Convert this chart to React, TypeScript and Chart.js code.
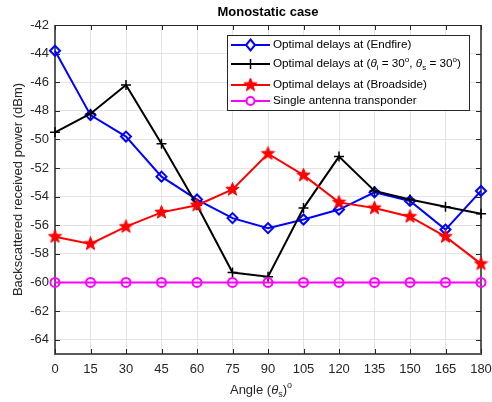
import React, { useEffect, useRef } from 'react';
import { Chart, registerables } from 'chart.js';

Chart.register(...registerables);

const angles = [0, 15, 30, 45, 60, 75, 90, 105, 120, 135, 150, 165, 180];
const endfire = [-43.8, -48.3, -49.8, -52.6, -54.2, -55.5, -56.2, -55.6, -54.9, -53.7, -54.3, -56.3, -53.6];
const steered = [-49.5, -48.2, -46.2, -50.3, -54.6, -59.3, -59.6, -54.8, -51.2, -53.6, -54.2, -54.7, -55.2];
const broadside = [-56.8, -57.3, -56.1, -55.1, -54.6, -53.5, -51.0, -52.5, -54.4, -54.8, -55.4, -56.8, -58.7];
const single = [-60, -60, -60, -60, -60, -60, -60, -60, -60, -60, -60, -60, -60];
const xTicks = [0, 15, 30, 45, 60, 75, 90, 105, 120, 135, 150, 165, 180];
const yTicks = [-42, -44, -46, -48, -50, -52, -54, -56, -58, -60, -62, -64];

const FONT = '"Liberation Sans", Arial, Helvetica, sans-serif';

type Run = { t: string; italic?: boolean; sub?: boolean; sup?: boolean };

function runsWidth(ctx: CanvasRenderingContext2D, runs: Run[], size: number) {
  let w = 0;
  for (const r of runs) {
    const s = r.sub || r.sup ? Math.round(size * 0.72) : size;
    ctx.font = `${r.italic ? 'italic ' : ''}${s}px ${FONT}`;
    w += ctx.measureText(r.t).width;
  }
  return w;
}

function drawRuns(ctx: CanvasRenderingContext2D, runs: Run[], x: number, y: number, size: number, color: string) {
  ctx.save();
  ctx.fillStyle = color;
  ctx.textBaseline = 'middle';
  ctx.textAlign = 'left';
  let cx = x;
  for (const r of runs) {
    const s = r.sub || r.sup ? Math.round(size * 0.72) : size;
    ctx.font = `${r.italic ? 'italic ' : ''}${s}px ${FONT}`;
    const dy = r.sub ? size * 0.32 : r.sup ? -size * 0.38 : 0;
    ctx.fillText(r.t, cx, y + dy);
    cx += ctx.measureText(r.t).width;
  }
  ctx.restore();
}

function makeStar(color: string, size: number) {
  const c = document.createElement('canvas');
  c.width = size;
  c.height = size;
  const g = c.getContext('2d')!;
  const cx = size / 2, cy = size / 2;
  const R = size / 2 - 0.5, r = R * 0.42;
  g.beginPath();
  for (let i = 0; i < 10; i++) {
    const a = -Math.PI / 2 + (i * Math.PI) / 5;
    const rr = i % 2 === 0 ? R : r;
    const px = cx + rr * Math.cos(a), py = cy + rr * Math.sin(a);
    if (i === 0) g.moveTo(px, py); else g.lineTo(px, py);
  }
  g.closePath();
  g.fillStyle = color;
  g.fill();
  g.strokeStyle = color;
  g.lineWidth = 1;
  g.stroke();
  return c;
}

export default function App() {
  const ref = useRef<HTMLCanvasElement>(null);
  useEffect(() => {
    const canvas = ref.current!;
    const star = makeStar('#ff0000', 15);
    const legendStar = makeStar('#ff0000', 15);

    const deco = {
      id: 'deco',
      beforeDatasetsDraw(chart: any) {
        const { ctx, chartArea: a, scales } = chart;
        ctx.save();
        ctx.strokeStyle = '#262626';
        ctx.lineWidth = 1;
        ctx.beginPath();
        ctx.moveTo(a.left, a.top + 0.5); ctx.lineTo(a.right, a.top + 0.5);
        ctx.stroke();
        ctx.strokeStyle = '#5a5a5a';
        ctx.lineWidth = 2;
        ctx.beginPath();
        ctx.moveTo(a.left, a.top); ctx.lineTo(a.left, a.bottom); ctx.lineTo(a.right, a.bottom); ctx.lineTo(a.right, a.top);
        ctx.stroke();
        ctx.strokeStyle = '#262626';
        ctx.lineWidth = 1;
        const tl = 5;
        ctx.beginPath();
        for (const v of xTicks) {
          const px = Math.round(scales.x.getPixelForValue(v)) + 0.5;
          ctx.moveTo(px, a.bottom); ctx.lineTo(px, a.bottom - tl);
          ctx.moveTo(px, a.top); ctx.lineTo(px, a.top + tl);
        }
        for (const v of yTicks) {
          const py = Math.round(scales.y.getPixelForValue(v)) + 0.5;
          ctx.moveTo(a.left, py); ctx.lineTo(a.left + tl, py);
          ctx.moveTo(a.right, py); ctx.lineTo(a.right - tl, py);
        }
        ctx.stroke();
        ctx.restore();
      },
      afterDraw(chart: any) {
        const { ctx, chartArea: a } = chart;
        const cxp = (a.left + a.right) / 2;
        // Title
        ctx.save();
        ctx.fillStyle = '#000';
        ctx.font = `bold 13px ${FONT}`;
        ctx.textAlign = 'center';
        ctx.textBaseline = 'middle';
        ctx.fillText('Monostatic case', cxp, 12);
        // Y title
        ctx.translate(18, (a.top + a.bottom) / 2);
        ctx.rotate(-Math.PI / 2);
        ctx.font = `13px ${FONT}`;
        ctx.fillStyle = '#262626';
        ctx.fillText('Backscattered received power (dBm)', 0, 0);
        ctx.restore();
        // X title
        const xr: Run[] = [{ t: 'Angle (' }, { t: 'θ', italic: true }, { t: 's', sub: true }, { t: ')' }, { t: 'o', sup: true }];
        const w = runsWidth(ctx, xr, 13);
        drawRuns(ctx, xr, 261 - w / 2, 390, 13, '#262626');

        // Legend
        const lx = 227, ly = 35, lw = 242, lh = 75;
        ctx.save();
        ctx.fillStyle = '#fff';
        ctx.fillRect(lx, ly, lw, lh);
        ctx.strokeStyle = '#262626';
        ctx.lineWidth = 1;
        ctx.strokeRect(lx + 0.5, ly + 0.5, lw, lh);
        ctx.restore();
        const rows: { y: number; color: string; marker: string; runs: Run[] }[] = [
          { y: 45, color: '#0000ff', marker: 'diamond', runs: [{ t: 'Optimal delays at (Endfire)' }] },
          {
            y: 64, color: '#000000', marker: 'plus',
            runs: [{ t: 'Optimal delays at (' }, { t: 'θ', italic: true }, { t: 'i', sub: true }, { t: ' = 30' }, { t: 'o', sup: true }, { t: ', ' }, { t: 'θ', italic: true }, { t: 's', sub: true }, { t: ' = 30' }, { t: 'o', sup: true }, { t: ')' }],
          },
          { y: 85, color: '#ff0000', marker: 'star', runs: [{ t: 'Optimal delays at (Broadside)' }] },
          { y: 101, color: '#ff00ff', marker: 'circle', runs: [{ t: 'Single antenna transponder' }] },
        ];
        for (const r of rows) {
          ctx.save();
          ctx.strokeStyle = r.color;
          ctx.lineWidth = 2;
          ctx.beginPath();
          ctx.moveTo(231, r.y);
          ctx.lineTo(270, r.y);
          ctx.stroke();
          const mx = 250.5, my = r.y;
          if (r.marker === 'diamond') {
            ctx.fillStyle = '#fff';
            ctx.beginPath();
            ctx.moveTo(mx, my - 5.5); ctx.lineTo(mx + 4.5, my); ctx.lineTo(mx, my + 5.5); ctx.lineTo(mx - 4.5, my); ctx.closePath();
            ctx.fill(); ctx.stroke();
          } else if (r.marker === 'plus') {
            ctx.lineWidth = 1.5;
            ctx.beginPath();
            ctx.moveTo(mx, my - 5); ctx.lineTo(mx, my + 5);
            ctx.stroke();
          } else if (r.marker === 'star') {
            ctx.drawImage(legendStar, mx - 7.5, my - 7.5);
          } else if (r.marker === 'circle') {
            ctx.fillStyle = '#fff';
            ctx.beginPath();
            ctx.arc(mx, my, 4, 0, Math.PI * 2);
            ctx.fill(); ctx.stroke();
          }
          ctx.restore();
          drawRuns(ctx, r.runs, 273, r.y, 11.7, '#000');
        }
      },
    };

    const mk = (data: number[]) => angles.map((x, i) => ({ x, y: data[i] }));

    const chart = new Chart(canvas, {
      type: 'line',
      data: {
        datasets: [
          { label: 'Optimal delays at (Endfire)', data: mk(endfire), borderColor: '#0000ff', backgroundColor: '#ffffff', borderWidth: 2, pointStyle: 'rectRot', pointRadius: 5, pointBorderWidth: 2, pointBorderColor: '#0000ff', pointBackgroundColor: 'rgba(255,255,255,0)', clip: false, order: 4 },
          { label: 'Optimal delays at (θi = 30o, θs = 30o)', data: mk(steered), borderColor: '#000000', borderWidth: 2, pointStyle: 'cross', pointRadius: 5, pointBorderWidth: 1.5, pointBorderColor: '#000', clip: false, order: 3 },
          { label: 'Optimal delays at (Broadside)', data: mk(broadside), borderColor: '#ff0000', borderWidth: 2, pointStyle: star as any, pointRadius: 7, clip: false, order: 2 },
          { label: 'Single antenna transponder', data: mk(single), borderColor: '#ff00ff', borderWidth: 2, pointStyle: 'circle', pointRadius: 4.5, pointBorderWidth: 2, pointBorderColor: '#ff00ff', pointBackgroundColor: 'rgba(255,255,255,0)', clip: false, order: 1 },
        ],
      },
      options: {
        animation: false,
        responsive: false,
        devicePixelRatio: 1,
        layout: { padding: { top: 25, right: 11, left: 0, bottom: 0 } },
        plugins: { legend: { display: false }, title: { display: false }, tooltip: { enabled: false } },
        elements: { line: { tension: 0 } },
        scales: {
          x: {
            type: 'linear', min: 0, max: 180,
            afterBuildTicks: (s: any) => { s.ticks = xTicks.map((v) => ({ value: v })); },
            afterFit: (s: any) => { s.height = 48; s.paddingLeft = 0; s.paddingRight = 0; },
            grid: { color: '#e3e3e3', drawTicks: false },
            border: { display: false },
            ticks: { font: { family: FONT, size: 13 }, color: '#262626', padding: 8, maxRotation: 0, autoSkip: false },
          },
          y: {
            type: 'linear', min: -65, max: -42,
            afterBuildTicks: (s: any) => { s.ticks = yTicks.map((v) => ({ value: v })); },
            afterFit: (s: any) => { s.width = 55; s.paddingTop = 0; s.paddingBottom = 0; },
            grid: { color: '#e3e3e3', drawTicks: false },
            border: { display: false },
            ticks: { font: { family: FONT, size: 13 }, color: '#262626', padding: 6, autoSkip: false },
          },
        },
      },
      plugins: [deco],
    } as any);
    return () => chart.destroy();
  }, []);
  return (
    <canvas ref={ref} width={492} height={402} style={{ position: 'absolute', left: 0, top: 0, width: 492, height: 402 }} />
  );
}
